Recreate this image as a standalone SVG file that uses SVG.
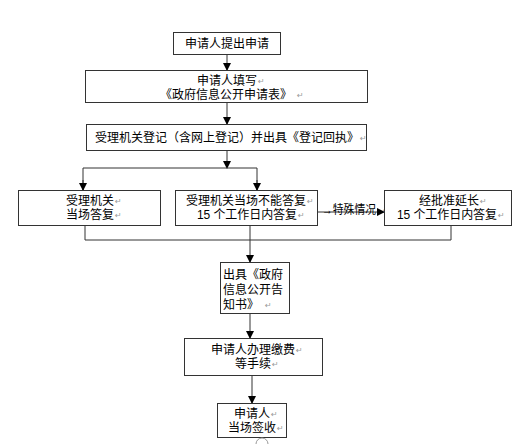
<svg xmlns="http://www.w3.org/2000/svg" width="532" height="444" viewBox="0 0 532 444">
<style>
.box{fill:#fff;stroke:#333;stroke-width:1}
.t{font-family:"Liberation Sans","Noto Sans CJK SC",sans-serif;font-size:12px;fill:#000}
.m{font-family:"Liberation Sans","DejaVu Sans",sans-serif;fill:#999;font-size:8px}
.c{fill:none;stroke:#333;stroke-width:1}
</style>
<defs>
<marker id="ah" viewBox="0 0 8 8" refX="7" refY="4" markerWidth="8" markerHeight="8" markerUnits="userSpaceOnUse" orient="auto">
<path d="M0,0 L8,4 L0,8 Z" fill="#000"/>
</marker>
</defs>
<rect width="532" height="444" fill="#fff"/>
<g id="connectors">
<line class="c" x1="227" y1="55" x2="227" y2="70" marker-end="url(#ah)"/>
<line class="c" x1="227" y1="103" x2="227" y2="124" marker-end="url(#ah)"/>
<line class="c" x1="227" y1="151" x2="227" y2="168" marker-end="url(#ah)"/>
<polyline class="c" points="83,190 83,168 257,168 257,190"/>
<line class="c" x1="83" y1="180" x2="83" y2="190" marker-end="url(#ah)"/>
<line class="c" x1="257" y1="180" x2="257" y2="190" marker-end="url(#ah)"/>
<line class="c" x1="318" y1="212" x2="384" y2="212" marker-end="url(#ah)"/>
<polyline class="c" points="85,226 85,240 451,240 451,226"/>
<line class="c" x1="250" y1="226" x2="250" y2="262" marker-end="url(#ah)"/>
<line class="c" x1="250" y1="314" x2="250" y2="338" marker-end="url(#ah)"/>
<line class="c" x1="252" y1="376" x2="252" y2="403" marker-end="url(#ah)"/>
<text class="t" x="322" y="214" textLength="54" lengthAdjust="spacingAndGlyphs">→特殊情况</text>
<text class="m" x="383" y="213" font-size="7">↵</text>
</g>
<g id="n1"><rect class="box" x="173.5" y="32.5" width="107" height="22"/>
<text class="t" x="227" y="48" text-anchor="middle">申请人提出申请</text></g>
<g id="n2"><rect class="box" x="85.5" y="70.5" width="282" height="32"/>
<text class="t" x="197" y="85">申请人填写</text><text class="m" x="258" y="84">↵</text>
<text class="t" x="160" y="99">《政府信息公开申请表》</text><text class="m" x="297" y="98">↵</text></g>
<g id="n3"><rect class="box" x="86.5" y="124.5" width="280" height="26"/>
<text class="t" x="95" y="142">受理机关登记（含网上登记）并出具《登记回执》</text><text class="m" x="360" y="141">↵</text></g>
<g id="n4"><rect class="box" x="18.5" y="190.5" width="142" height="35"/>
<text class="t" x="66" y="205">受理机关</text><text class="m" x="115" y="204">↵</text>
<text class="t" x="66" y="219">当场答复</text><text class="m" x="115" y="218">↵</text></g>
<g id="n5"><rect class="box" x="175.5" y="190.5" width="142" height="35"/>
<text class="t" x="186" y="205">受理机关当场不能答复</text><text class="m" x="307" y="204">↵</text>
<text class="t" x="197" y="219" textLength="100">15 个工作日内答复</text><text class="m" x="298" y="218">↵</text></g>
<g id="n6"><rect class="box" x="384.5" y="190.5" width="127" height="35"/>
<text class="t" x="419" y="205">经批准延长</text><text class="m" x="480" y="204">↵</text>
<text class="t" x="397" y="219" textLength="100">15 个工作日内答复</text><text class="m" x="498" y="218">↵</text></g>
<g id="n7"><rect class="box" x="220.5" y="262.5" width="69" height="51"/>
<text class="t" x="223" y="279" font-size="12.5">出具《政府</text>
<text class="t" x="223" y="294" font-size="12.5">信息公开告</text>
<text class="t" x="223" y="309" font-size="12.5">知书》</text><text class="m" x="265" y="308">↵</text></g>
<g id="n8"><rect class="box" x="184.5" y="338.5" width="138" height="37"/>
<text class="t" x="211" y="354">申请人办理缴费</text><text class="m" x="296" y="353">↵</text>
<text class="t" x="235" y="368">等手续</text><text class="m" x="272" y="367">↵</text></g>
<g id="n9"><rect class="box" x="217.5" y="403.5" width="69" height="34"/>
<text class="t" x="234" y="418">申请人</text><text class="m" x="271" y="417">↵</text>
<text class="t" x="228" y="432">当场签收</text><text class="m" x="277" y="431">↵</text></g>
<path d="M256,444 A6,6 0 0 1 268,444" fill="none" stroke="#999" stroke-width="1"/>
</svg>
